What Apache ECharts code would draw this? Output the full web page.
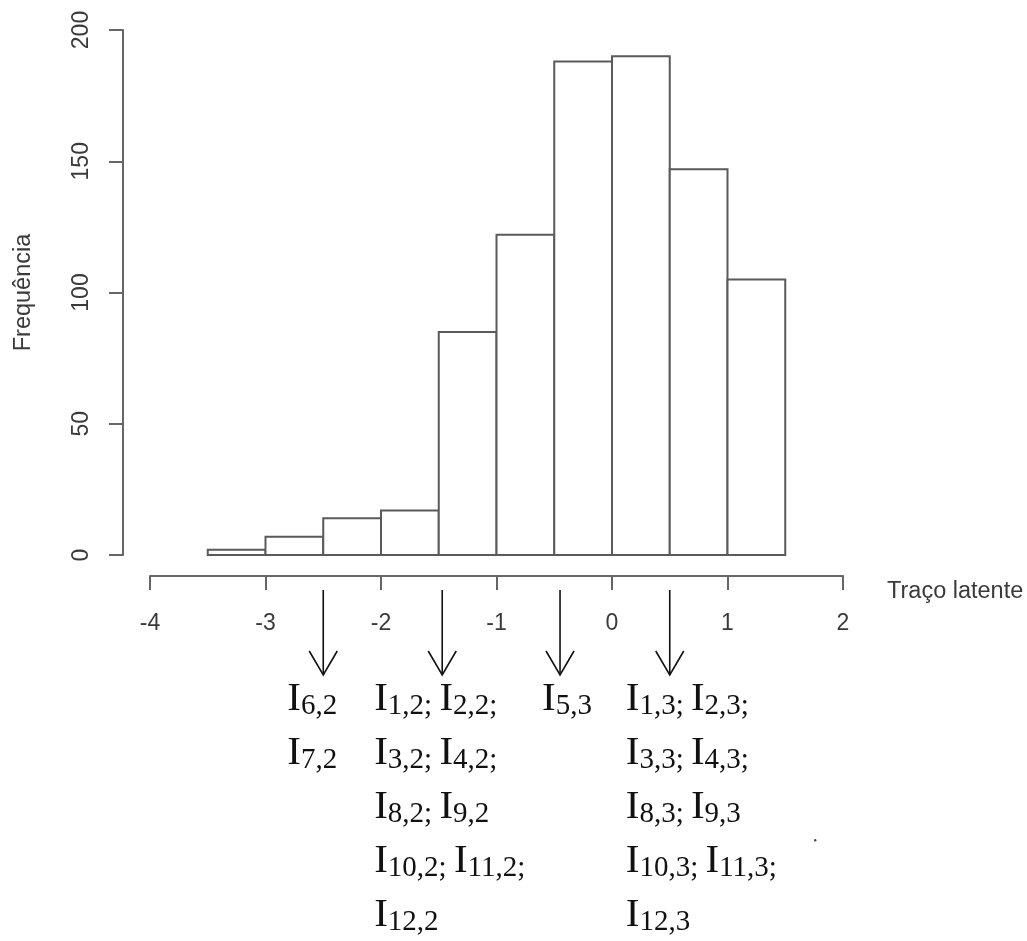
<!DOCTYPE html>
<html>
<head>
<meta charset="utf-8">
<script src="https://cdn.jsdelivr.net/npm/echarts@6/dist/echarts.min.js"></script>
<style>
  html, body { margin: 0; padding: 0; background: #fff; }
  #chart { width: 1027px; height: 941px; }
</style>
</head>
<body>
<div id="chart"></div>
<script>
// histogram of the latent trait
const binEdges = [-3.5, -3, -2.5, -2, -1.5, -1, -0.5, 0, 0.5, 1, 1.5];
const counts = [2, 7, 14, 17, 85, 122, 188, 190, 147, 105];
const xTicks = [-4, -3, -2, -1, 0, 1, 2];
const yTicks = [0, 50, 100, 150, 200];

// arrows under the axis and the items they point to
const arrowAt = [-2.5, -1.47, -0.45, 0.5];
const itemGroups = [
  [['6,2'], ['7,2']],
  [['1,2;', '2,2;'], ['3,2;', '4,2;'], ['8,2;', '9,2'], ['10,2;', '11,2;'], ['12,2']],
  [['5,3']],
  [['1,3;', '2,3;'], ['3,3;', '4,3;'], ['8,3;', '9,3'], ['10,3;', '11,3;'], ['12,3']]
];
// horizontal shift of each text block from its arrow (px)
const labelShift = [-36, -68, -18, -44];

const X_AXIS_OFFSET = 21;
const sans = 'Liberation Sans';
const serif = 'Liberation Serif';

const histData = counts.map((c, i) => [binEdges[i], binEdges[i + 1], c]);
const arrowData = arrowAt.map((v, i) => [v, 0, i]);

const chart = echarts.init(document.getElementById('chart'));

const options = {
  animation: false,
  backgroundColor: '#fff',
  grid: { left: 150, right: 184, top: 30, bottom: 386 },
  xAxis: {
    type: 'value',
    min: xTicks[0],
    max: xTicks[xTicks.length - 1],
    interval: xTicks[1] - xTicks[0],
    offset: X_AXIS_OFFSET,
    name: 'Traço latente',
    nameLocation: 'end',
    nameGap: 44,
    nameTextStyle: { fontFamily: sans, fontSize: 23.5, color: '#3a3a3a', verticalAlign: 'top', padding: [4, 0, 0, 0] },
    axisLine: { onZero: false, lineStyle: { color: '#666', width: 2 } },
    axisTick: { length: 14, lineStyle: { color: '#666', width: 2 } },
    axisLabel: { margin: 36, fontFamily: sans, fontSize: 23, color: '#3a3a3a', showMinLabel: true, showMaxLabel: true },
    splitLine: { show: false }
  },
  yAxis: {
    type: 'value',
    min: yTicks[0],
    max: yTicks[yTicks.length - 1],
    interval: yTicks[1] - yTicks[0],
    offset: 27,
    name: 'Frequência',
    nameLocation: 'middle',
    nameRotate: 90,
    nameGap: 87,
    nameTextStyle: { fontFamily: sans, fontSize: 23.5, color: '#3a3a3a' },
    axisLine: { show: true, onZero: false, lineStyle: { color: '#666', width: 2 } },
    axisTick: { show: true, length: 14, lineStyle: { color: '#666', width: 2 } },
    axisLabel: { rotate: 90, margin: 30, fontFamily: sans, fontSize: 23, color: '#3a3a3a', showMinLabel: true, showMaxLabel: true },
    splitLine: { show: false }
  },
  series: [
    {
      type: 'custom',
      silent: true,
      data: histData,
      encode: { x: [0, 1], y: 2 },
      renderItem: function (params, api) {
        const p0 = api.coord([api.value(0), api.value(2)]);
        const p1 = api.coord([api.value(1), 0]);
        return {
          type: 'rect',
          shape: { x: p0[0], y: p0[1], width: p1[0] - p0[0], height: p1[1] - p0[1] },
          style: { fill: '#fff', stroke: '#5a5a5a', lineWidth: 2 }
        };
      }
    },
    {
      type: 'custom',
      silent: true,
      clip: false,
      data: arrowData,
      encode: { x: 0, y: 1 },
      renderItem: function (params, api) {
        const i = api.value(2);
        const base = api.coord([api.value(0), 0]);
        const x = base[0];
        const ay = base[1] + X_AXIS_OFFSET;
        const text = itemGroups[i].map(line =>
          line.map(s => '{I|I}{s|' + s + '}').join(' ')
        ).join('\n');
        return {
          type: 'group',
          children: [
            { type: 'line', shape: { x1: x, y1: ay + 14, x2: x, y2: ay + 99 },
              style: { stroke: '#111', lineWidth: 1.6 } },
            { type: 'polyline', shape: { points: [[x - 14, ay + 75], [x, ay + 99], [x + 14, ay + 75]] },
              style: { stroke: '#111', lineWidth: 1.6, fill: 'none' } },
            { type: 'text', x: x + labelShift[i], y: ay + 96,
              style: {
                text: text,
                align: 'left',
                verticalAlign: 'top',
                fill: '#111',
                fontFamily: serif,
                fontSize: 29,
                lineHeight: 54,
                rich: {
                  I: { fontFamily: serif, fontSize: 41, lineHeight: 54, fill: '#111' },
                  s: { fontFamily: serif, fontSize: 29, lineHeight: 54, height: 40, verticalAlign: 'bottom', fill: '#111' }
                }
              } }
          ]
        };
      }
    }
  ],
  graphic: [
    { type: 'circle', left: 814, top: 839, shape: { r: 1.2 }, style: { fill: '#444' }, silent: true }
  ]
};

chart.setOption(options);
</script>
</body>
</html>
